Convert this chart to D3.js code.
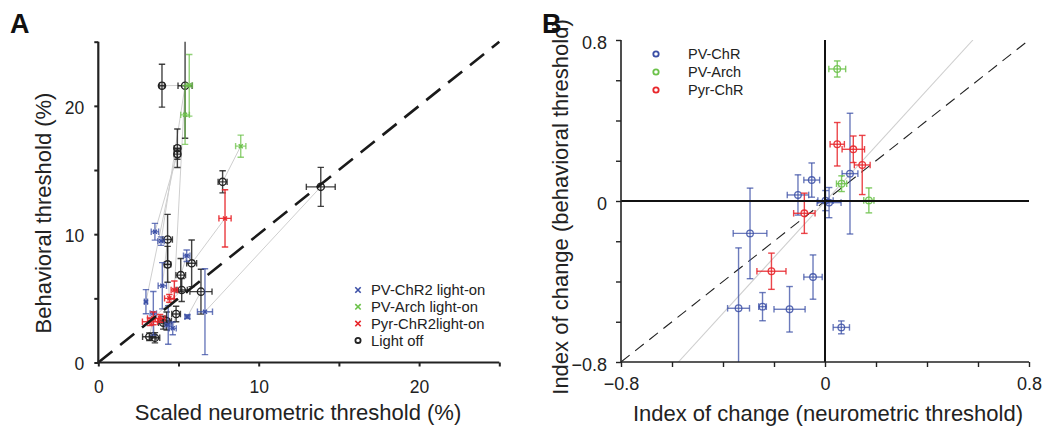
<!DOCTYPE html>
<html><head><meta charset="utf-8">
<script src="https://cdn.jsdelivr.net/npm/d3@7"></script>
<style>
html,body{margin:0;padding:0;background:#fff;}
svg{display:block;font-family:"Liberation Sans",Arial,Helvetica,sans-serif;}
</style></head>
<body><svg id="chart" width="1044" height="433"></svg>
<script>
// ---------- Panel A data ----------
const lightOff = [
  {x:3.97,y:21.57,ex:0.15,ey:1.67},
  {x:5.41,y:21.57,ex:0.44,ey:4.1},
  {x:4.93,y:16.7,ex:0.2,ey:1.5},
  {x:4.93,y:16.24,ex:0.2,ey:0.4},
  {x:7.75,y:14.08,ex:0.28,ey:0.86},
  {x:13.87,y:13.69,ex:0.9,ey:1.52},
  {x:4.32,y:9.59,ex:0.3,ey:1.95},
  {x:4.32,y:7.65,ex:0.2,ey:1.4},
  {x:5.82,y:7.73,ex:0.31,ey:1.82},
  {x:5.14,y:6.81,ex:0.3,ey:1.3},
  {x:5.2,y:5.65,ex:0.35,ey:0.9},
  {x:6.4,y:5.52,ex:0.69,ey:1.75},
  {x:4.85,y:3.78,ex:0.27,ey:0.6},
  {x:4.26,y:3.23,ex:0.3,ey:0.7},
  {x:4.05,y:3.1,ex:0.3,ey:0.5},
  {x:3.18,y:2.01,ex:0.42,ey:0.3},
  {x:3.53,y:1.93,ex:0.3,ey:0.4}
];
const pvChR2On = [
  {x:3.53,y:10.19,ex:0.23,ey:0.65,pair:3},
  {x:3.91,y:9.46,ex:0.2,ey:0.33,pair:1},
  {x:5.51,y:8.32,ex:0.2,ey:0.45,pair:9},
  {x:3.99,y:5.98,ex:0.26,ey:1.8,pair:6},
  {x:2.97,y:4.74,ex:0.1,ey:0.94,pair:2},
  {x:3.43,y:3.83,ex:0.2,ey:1.7,pair:16},
  {x:4.36,y:2.92,ex:0.2,ey:1.5,pair:13},
  {x:4.64,y:2.66,ex:0.22,ey:0.5,pair:12},
  {x:5.55,y:3.57,ex:0.15,ey:0.15,pair:11},
  {x:6.65,y:3.96,ex:0.47,ey:3.35,pair:5}
];
const pvArchOn = [
  {x:5.67,y:21.6,ex:0.2,ey:2.4,pair:0},
  {x:5.41,y:19.3,ex:0.27,ey:2.3,pair:1},
  {x:8.88,y:16.86,ex:0.32,ey:0.86,pair:4}
];
const pyrChR2On = [
  {x:7.9,y:11.23,ex:0.38,ey:2.23,pair:8},
  {x:4.74,y:5.65,ex:0.2,ey:0.7,pair:1},
  {x:4.43,y:5.0,ex:0.3,ey:0.3,pair:7},
  {x:3.43,y:3.44,ex:0.36,ey:0.5,pair:15},
  {x:3.85,y:3.44,ex:0.3,ey:0.3,pair:14},
  {x:3.22,y:3.18,ex:0.47,ey:0.3,pair:10}
];
const ticksA = [0,5,10,15,20,25];
const tickLabelsA = [0,10,20];
const legendA = ["PV-ChR2 light-on","PV-Arch light-on","Pyr-ChR2light-on","Light off"];

// ---------- Panel B data ----------
const pvChR = [
  {x:-0.294,y:-0.161,ex:0.066,ey:0.225},
  {x:-0.339,y:-0.533,ex:0.043,ey:0.30},
  {x:-0.245,y:-0.525,ex:0.015,ey:0.07},
  {x:-0.139,y:-0.538,ex:0.061,ey:0.113},
  {x:-0.047,y:-0.378,ex:0.036,ey:0.11},
  {x:0.064,y:-0.628,ex:0.032,ey:0.032},
  {x:-0.106,y:0.030,ex:0.042,ey:0.10},
  {x:-0.052,y:0.104,ex:0.031,ey:0.085},
  {x:0.016,y:-0.008,ex:0.047,ey:0.075},
  {x:0.002,y:0.002,ex:0.03,ey:0.05},
  {x:0.098,y:0.136,ex:0.031,ey:0.30}
];
const pvArch = [
  {x:0.048,y:0.656,ex:0.033,ey:0.04},
  {x:0.065,y:0.086,ex:0.02,ey:0.039},
  {x:0.172,y:0.003,ex:0.02,ey:0.062}
];
const pyrChR = [
  {x:0.048,y:0.282,ex:0.028,ey:0.108},
  {x:0.111,y:0.257,ex:0.044,ey:0.066},
  {x:0.146,y:0.179,ex:0.031,ey:0.147},
  {x:-0.081,y:-0.061,ex:0.042,ey:0.10},
  {x:-0.210,y:-0.349,ex:0.057,ey:0.09}
];
const fitLineB = [[-0.575,-0.8],[0.58,0.8]];
const ticksB = [-0.8,-0.6,-0.4,-0.2,0,0.2,0.4,0.6,0.8];
const tickLabelsB = [-0.8,0,0.8];
const legendB = ["PV-ChR","PV-Arch","Pyr-ChR"];

// ---------- styles ----------
const BLUE = "#3b4fa6", GREEN = "#6cc24a", RED = "#e8262b", BLACK = "#222";

const svg = d3.select("#chart");
const defs = svg.append("defs");

// ---------- Panel A ----------
const xA = d3.scaleLinear([0,25],[98.3,499.3]);
const yA = d3.scaleLinear([0,25],[362.5,41.7]);
defs.append("clipPath").attr("id","clipA").append("rect")
  .attr("x",60).attr("y",yA(25)).attr("width",480).attr("height",340);
defs.append("clipPath").attr("id","clipB").append("rect")
  .attr("x",600).attr("y",40).attr("width",440).attr("height",322);

const gA = svg.append("g");
const plotA = gA.append("g").attr("clip-path","url(#clipA)");

// connecting lines
const allOn = [...pvChR2On, ...pvArchOn, ...pyrChR2On];
plotA.append("g").selectAll("line").data(allOn).join("line")
  .attr("x1",d=>xA(d.x)).attr("y1",d=>yA(d.y))
  .attr("x2",d=>xA(lightOff[d.pair].x)).attr("y2",d=>yA(lightOff[d.pair].y))
  .attr("stroke","#cfcfcf").attr("stroke-width",1);

function errorBars(g, data, xs, ys, color, opacity, sw, cap){
  const e = g.append("g").attr("stroke",color).attr("stroke-opacity",opacity)
    .attr("stroke-width",sw).attr("fill","none");
  data.forEach(d=>{
    const cx = xs(d.x), cy = ys(d.y);
    const x0 = xs(d.x-d.ex), x1 = xs(d.x+d.ex);
    const y0 = ys(d.y-d.ey), y1 = ys(d.y+d.ey);
    e.append("line").attr("x1",x0).attr("x2",x1).attr("y1",cy).attr("y2",cy);
    e.append("line").attr("x1",x0).attr("x2",x0).attr("y1",cy-cap).attr("y2",cy+cap);
    e.append("line").attr("x1",x1).attr("x2",x1).attr("y1",cy-cap).attr("y2",cy+cap);
    e.append("line").attr("x1",cx).attr("x2",cx).attr("y1",y0).attr("y2",y1);
    e.append("line").attr("x1",cx-cap).attr("x2",cx+cap).attr("y1",y0).attr("y2",y0);
    e.append("line").attr("x1",cx-cap).attr("x2",cx+cap).attr("y1",y1).attr("y2",y1);
  });
}
function crosses(g, data, xs, ys, color, s){
  g.append("g").selectAll("path").data(data).join("path")
    .attr("d",d=>{const cx=xs(d.x), cy=ys(d.y);
      return `M${cx-s},${cy-s}L${cx+s},${cy+s}M${cx-s},${cy+s}L${cx+s},${cy-s}`;})
    .attr("stroke",color).attr("stroke-width",1.4).attr("fill","none");
}
function circles(g, data, xs, ys, color, r, sw, op){
  g.append("g").selectAll("circle").data(data).join("circle")
    .attr("cx",d=>xs(d.x)).attr("cy",d=>ys(d.y)).attr("r",r)
    .attr("fill","none").attr("stroke",color).attr("stroke-width",sw).attr("stroke-opacity",op||1);
}

errorBars(plotA, lightOff, xA, yA, BLACK, 0.85, 1.4, 3.2);
circles(plotA, lightOff, xA, yA, BLACK, 3.6, 1.4);
errorBars(plotA, pvChR2On, xA, yA, BLUE, 0.75, 1.4, 3.2);
crosses(plotA, pvChR2On, xA, yA, BLUE, 2);
errorBars(plotA, pvArchOn, xA, yA, GREEN, 0.75, 1.4, 3.2);
crosses(plotA, pvArchOn, xA, yA, GREEN, 2);
errorBars(plotA, pyrChR2On, xA, yA, RED, 0.9, 1.4, 3.2);
crosses(plotA, pyrChR2On, xA, yA, RED, 2);

// unity line
gA.append("line").attr("x1",xA(0)).attr("y1",yA(0)).attr("x2",xA(25)).attr("y2",yA(25))
  .attr("stroke","#1a1a1a").attr("stroke-width",2.6).attr("stroke-dasharray","18,10");

// axes A
const axA_x = gA.append("g").attr("transform",`translate(0,${yA(0)})`)
  .call(d3.axisBottom(xA).tickValues(ticksA).tickSize(4).tickPadding(14)
    .tickFormat(d=>tickLabelsA.includes(d)?d:""));
const axA_y = gA.append("g").attr("transform",`translate(${xA(0)},0)`)
  .call(d3.axisLeft(yA).tickValues(ticksA).tickSize(4).tickPadding(10)
    .tickFormat(d=>tickLabelsA.includes(d)?d:""));
[axA_x, axA_y].forEach(a=>{
  a.select(".domain").attr("stroke",BLACK).attr("stroke-width",2.2);
  a.selectAll(".tick line").attr("stroke",BLACK).attr("stroke-width",2);
  a.selectAll("text").attr("font-size",17.5).attr("fill",BLACK)
    .attr("font-family","Liberation Sans, Arial, sans-serif");
});
axA_y.selectAll("text").attr("dy","0.42em");
axA_x.select(".domain").attr("d",`M${xA(0)},0H${xA(25)}`);
axA_y.select(".domain").attr("d",`M0,${yA(0)}V${yA(25)}`);

gA.append("text").attr("x",298).attr("y",412).attr("dy","0.35em").attr("text-anchor","middle")
  .attr("font-size",22).attr("fill","#222").text("Scaled neurometric threshold (%)");
gA.append("text").attr("transform","translate(43,213) rotate(-90)").attr("dy","0.35em")
  .attr("text-anchor","middle").attr("font-size",22).attr("fill","#222").text("Behavioral threshold (%)");

// legend A
const legColorsA = [BLUE, GREEN, RED, BLACK];
const legA = gA.append("g");
legendA.forEach((t,i)=>{
  const y = 290 + i*16.8, x = 358;
  if(i<3){
    legA.append("path").attr("d",`M${x-2.7},${y-2.7}L${x+2.7},${y+2.7}M${x-2.7},${y+2.7}L${x+2.7},${y-2.7}`)
      .attr("stroke",legColorsA[i]).attr("stroke-width",1.6);
  } else {
    legA.append("circle").attr("cx",x).attr("cy",y).attr("r",2.6).attr("fill","none")
      .attr("stroke",BLACK).attr("stroke-width",1.8);
  }
  legA.append("text").attr("x",371).attr("y",y).attr("dy","0.35em").attr("font-size",14.8)
    .attr("fill","#222").text(t);
});

svg.append("text").attr("x",10).attr("y",33).attr("font-size",27).attr("font-weight","bold")
  .attr("fill","#111").text("A");

// ---------- Panel B ----------
const xB = d3.scaleLinear([-0.8,0.8],[621,1029]);
const yB = d3.scaleLinear([-0.8,0.8],[362,40]);
const gB = svg.append("g");
const plotB = gB.append("g").attr("clip-path","url(#clipB)");

// zero lines
gB.append("line").attr("x1",xB(0)).attr("x2",xB(0)).attr("y1",yB(0.8)).attr("y2",yB(-0.8))
  .attr("stroke","#111").attr("stroke-width",2);
gB.append("line").attr("x1",xB(-0.8)).attr("x2",xB(0.8)).attr("y1",yB(0)).attr("y2",yB(0))
  .attr("stroke","#111").attr("stroke-width",2);
// fit line & unity line
plotB.append("line").attr("x1",xB(fitLineB[0][0])).attr("y1",yB(fitLineB[0][1]))
  .attr("x2",xB(fitLineB[1][0])).attr("y2",yB(fitLineB[1][1]))
  .attr("stroke","#cfcfcf").attr("stroke-width",1.1);
plotB.append("line").attr("x1",xB(-0.8)).attr("y1",yB(-0.8)).attr("x2",xB(0.8)).attr("y2",yB(0.8))
  .attr("stroke","#222").attr("stroke-width",1.1).attr("stroke-dasharray","11,7");

errorBars(plotB, pvChR, xB, yB, BLUE, 0.75, 1.4, 3.3);
circles(plotB, pvChR, xB, yB, BLUE, 3.3, 1.3, 0.85);
errorBars(plotB, pvArch, xB, yB, GREEN, 0.85, 1.4, 3.3);
circles(plotB, pvArch, xB, yB, GREEN, 3.3, 1.3, 0.9);
errorBars(plotB, pyrChR, xB, yB, RED, 0.85, 1.4, 3.3);
circles(plotB, pyrChR, xB, yB, RED, 3.3, 1.3, 0.9);

const axB_x = gB.append("g").attr("transform",`translate(0,${yB(-0.8)})`)
  .call(d3.axisBottom(xB).tickValues(ticksB).tickSize(5).tickPadding(10)
    .tickFormat(d=>tickLabelsB.some(v=>Math.abs(v-d)<1e-9)?d3.format("")(d):""));
const axB_y = gB.append("g").attr("transform",`translate(${xB(-0.8)},0)`)
  .call(d3.axisLeft(yB).tickValues(ticksB).tickSize(5).tickPadding(9)
    .tickFormat(d=>tickLabelsB.some(v=>Math.abs(v-d)<1e-9)?d3.format("")(d):""));
[axB_x, axB_y].forEach(a=>{
  a.select(".domain").attr("stroke",BLACK).attr("stroke-width",1.6);
  a.selectAll(".tick line").attr("stroke",BLACK).attr("stroke-width",1.4);
  a.selectAll("text").attr("font-size",18).attr("fill",BLACK)
    .attr("font-family","Liberation Sans, Arial, sans-serif");
});
axB_y.selectAll("text").attr("dy","0.45em");
axB_x.select(".domain").attr("d",`M${xB(-0.8)},0H${xB(0.8)}`);
axB_y.select(".domain").attr("d",`M0,${yB(-0.8)}V${yB(0.8)}`);

gB.append("text").attr("x",828).attr("y",413).attr("dy","0.35em").attr("text-anchor","middle")
  .attr("font-size",22).attr("fill","#222").text("Index of change (neurometric threshold)");
gB.append("text").attr("transform","translate(560,207) rotate(-90)").attr("dy","0.35em")
  .attr("text-anchor","middle").attr("font-size",22).attr("fill","#222")
  .text("Index of change (behavioral threshold)");

const legColorsB = [BLUE, GREEN, RED];
legendB.forEach((t,i)=>{
  const y = 54 + i*18;
  gB.append("circle").attr("cx",656).attr("cy",y).attr("r",2.7).attr("fill","none")
    .attr("stroke",legColorsB[i]).attr("stroke-width",1.8);
  gB.append("text").attr("x",688).attr("y",y).attr("dy","0.35em").attr("font-size",14.5)
    .attr("fill","#222").text(t);
});

svg.append("text").attr("x",542).attr("y",33).attr("font-size",27).attr("font-weight","bold")
  .attr("fill","#111").text("B");
</script>
</body></html>
